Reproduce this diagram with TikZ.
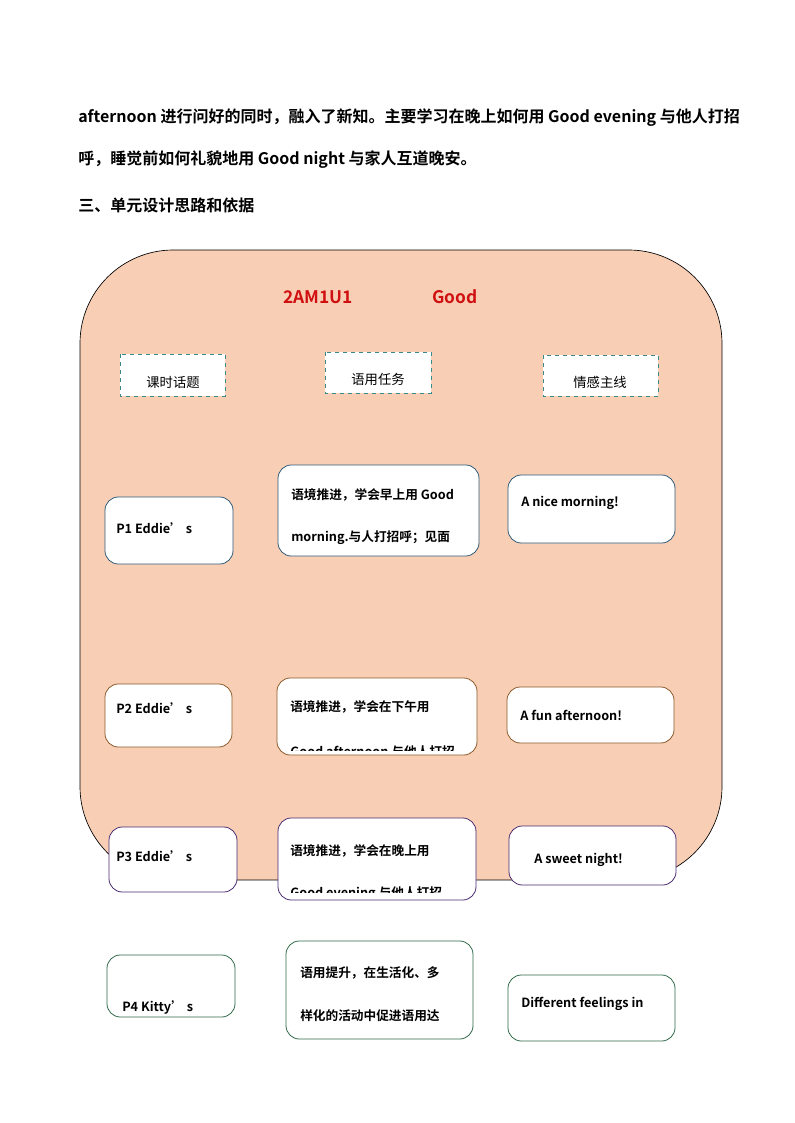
\documentclass[tikz,border=0pt]{standalone}
\usepackage{fontspec}
\setmainfont{Noto Sans CJK SC}[BoldFont={Noto Sans CJK SC Bold}]
\newfontfamily\cjkb{Noto Sans CJK SC Bold}
\definecolor{peach}{HTML}{F8CFB5}
\definecolor{dashc}{HTML}{3A8A8A}
\definecolor{bblue}{HTML}{2E5A78}
\definecolor{bbrown}{HTML}{8A5A2A}
\definecolor{bpurple}{HTML}{4A2A70}
\definecolor{bgreen}{HTML}{2E6A4A}
\definecolor{tred}{HTML}{D01010}
\tikzset{
  bx/.style={draw, fill=white, rounded corners=10pt, line width=0.6pt},
  dbx/.style={draw=dashc, dashed, fill=white, line width=0.6pt},
  tx/.style={anchor=west, inner sep=0, font=\cjkb\fontsize{9.5}{11}\selectfont},
  lbl/.style={inner sep=0, font=\fontsize{10}{12}\selectfont},
  para/.style={anchor=west, inner sep=0, font=\cjkb\fontsize{12}{14}\selectfont}
}
\begin{document}
\begin{tikzpicture}[x=0.75pt,y=-0.75pt]
\useasboundingbox (0,0) rectangle (794,1123);
\node[para] (l1) at (78,118) {afternoon 进行问好的同时，融入了新知。主要学习在晚上如何用 Good evening 与他人打招};
\node[para] (l2) at (78,160) {呼，睡觉前如何礼貌地用 Good night 与家人互道晚安。};
\node[para] (l3) at (78,205) {三、单元设计思路和依据};
\draw[fill=peach, draw=black, line width=0.5pt, rounded corners=70pt] (80,250) rectangle (722,880);
\node[inner sep=0, text=tred, font=\cjkb\fontsize{13}{15}\selectfont] (t1) at (318,297) {2AM1U1};
\node[inner sep=0, text=tred, font=\cjkb\fontsize{13}{15}\selectfont] (t2) at (455,297) {Good};
\draw[dbx] (120,354) rectangle (225,396); \node[lbl] (h1) at (173,382) {课时话题};
\draw[dbx] (325,352) rectangle (431,393); \node[lbl] (h2) at (378,379) {语用任务};
\draw[dbx] (543,355) rectangle (658,396); \node[lbl] (h3) at (600,382) {情感主线};
% row 1
\draw[bx, draw=bblue] (105,497) rectangle (233,564); \node[tx] (p1) at (116,528) {P1 Eddie’ s};
\draw[bx, draw=bblue] (278,465) rectangle (479,556);
\node[tx] (m1a) at (291,495) {语境推进，学会早上用 Good};
\node[tx] (m1b) at (291,538) {morning.与人打招呼；见面};
\draw[bx, draw=bblue] (508,475) rectangle (675,543); \node[tx] (r1) at (521,503) {A nice morning!};
% row 2
\draw[bx, draw=bbrown] (105,684) rectangle (232,747); \node[tx] (p2) at (116,708) {P2 Eddie’ s};
\draw[bx, draw=bbrown] (277,678) rectangle (477,755);
\node[tx] (m2a) at (290,707) {语境推进，学会在下午用};
\begin{scope}\clip (280,700) rectangle (475,750);
\node[tx] (m2b) at (290,752) {Good afternoon 与他人打招};\end{scope}
\draw[bx, draw=bbrown] (507,687) rectangle (674,743); \node[tx] (r2) at (520,715) {A fun afternoon!};
% row 3
\draw[bx, draw=bpurple] (109,827) rectangle (237,892); \node[tx] (p3) at (116,856) {P3 Eddie’ s};
\draw[bx, draw=bpurple] (278,818) rectangle (476,900);
\node[tx] (m3a) at (290,851) {语境推进，学会在晚上用};
\begin{scope}\clip (280,840) rectangle (474,892);
\node[tx] (m3b) at (290,894) {Good evening 与他人打招};\end{scope}
\draw[bx, draw=bpurple] (509,826) rectangle (676,885); \node[tx] (r3) at (534,860) {A sweet night!};
% row 4
\draw[bx, draw=bgreen] (107,955) rectangle (235,1017); \node[tx] (p4) at (122,1008) {P4 Kitty’ s};
\draw[bx, draw=bgreen] (286,941) rectangle (473,1039);
\node[tx] (m4a) at (300,973) {语用提升，在生活化、多};
\node[tx] (m4b) at (300,1016) {样化的活动中促进语用达};
\draw[bx, draw=bgreen] (508,975) rectangle (675,1041); \node[tx] (r4) at (521,1004) {Different feelings in};
\end{tikzpicture}
\end{document}
